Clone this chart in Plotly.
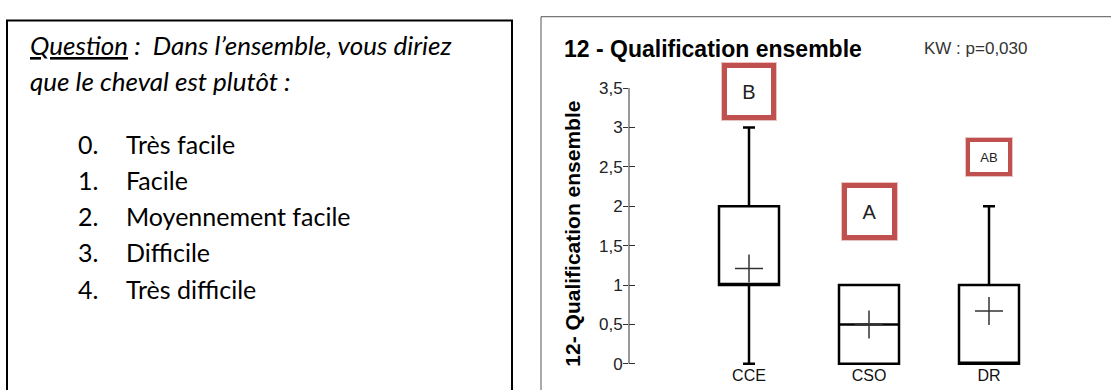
import plotly.graph_objects as go

# ---- data -------------------------------------------------------------
groups = ["CCE", "CSO", "DR"]
q_min = [0, 0, 0]
q1 = [1, 0, 0]
median = [1, 0.5, 0]
q3 = [2, 1, 1]
q_max = [3, 1, 2]
means = [1.21, 0.5, 0.67]

letters = ["B", "A", "AB"]
letter_y = [3.46, 1.93, 2.63]

y_ticks = [0, 0.5, 1, 1.5, 2, 2.5, 3, 3.5]

question = "Dans l’ensemble, vous diriez"
question_2 = "que le cheval est plutôt :"
choices = ["Très facile", "Facile", "Moyennement facile", "Difficile", "Très difficile"]

title = "12 - Qualification ensemble"
y_title = "12- Qualification ensemble"
kw_text = "KW : p=0,030"

# ---- page geometry (pixels -> paper) ----------------------------------
W, H = 1111, 390


def px(x):
    return x / W


def py(y):
    return 1 - y / H


Y_RANGE = [-0.06, 3.5]
Y_TOP_PX, Y_ZERO_PX = 82, 368
unit = (Y_ZERO_PX - Y_TOP_PX) / 3.5
y_bottom_px = Y_ZERO_PX + (0 - Y_RANGE[0]) * unit
y_domain = [py(y_bottom_px), py(Y_TOP_PX)]
x_domain = [px(629), px(1109)]

SANS = "Liberation Sans, Arial, sans-serif"
BODY = "Lato, Carlito, Calibri, sans-serif"
RED = "#c0504d"

fig = go.Figure()

fig.add_trace(go.Box(
    x=groups, q1=q1, median=median, q3=q3,
    lowerfence=q_min, upperfence=q_max,
    width=0.5, whiskerwidth=0.2,
    line=dict(color="black", width=2.5),
    fillcolor="white", boxpoints=False,
    showlegend=False, hoverinfo="skip",
))

fig.add_trace(go.Scatter(
    x=groups, y=means, mode="markers",
    marker=dict(symbol="cross-thin", size=20, color="#333",
                line=dict(width=1.5, color="#333")),
    showlegend=False, hoverinfo="skip",
))

# carrier for the inner half of the y ticks
fig.add_trace(go.Scatter(
    x=groups[:1], y=[0], yaxis="y2", mode="markers",
    marker=dict(opacity=0), showlegend=False, hoverinfo="skip",
))

axis_common = dict(
    range=Y_RANGE, domain=y_domain, tickvals=y_ticks,
    showgrid=False, zeroline=False, showline=False,
    tickcolor="#333", tickwidth=1,
)

fig.update_layout(
    width=W, height=H, autosize=False,
    margin=dict(l=0, r=0, t=0, b=0),
    paper_bgcolor="white", plot_bgcolor="rgba(0,0,0,0)",
    separators=", ",
    xaxis=dict(
        type="category", categoryorder="array", categoryarray=groups,
        range=[-1, 3], domain=x_domain,
        showgrid=False, zeroline=False, showline=False, ticks="",
        tickfont=dict(family=SANS, size=16, color="#111"),
        ticklabelstandoff=-5,
        fixedrange=True,
    ),
    yaxis=dict(
        **axis_common, ticks="outside", ticklen=5,
        tickfont=dict(family=SANS, size=17, color="#222"),
        ticklabelstandoff=-3,
        fixedrange=True,
    ),
    yaxis2=dict(
        **axis_common, ticks="inside", ticklen=6, overlaying="y",
        anchor="x", side="left", showticklabels=False, fixedrange=True,
    ),
)

shapes = [
    # question panel frame
    dict(type="rect", xref="paper", yref="paper",
         x0=px(7), x1=px(512), y0=py(12), y1=py(400),
         line=dict(color="black", width=2)),
    # chart panel frame
    dict(type="line", xref="paper", yref="paper",
         x0=px(541), x1=px(1111), y0=py(8), y1=py(8),
         line=dict(color="#555", width=1)),
    dict(type="line", xref="paper", yref="paper",
         x0=px(541), x1=px(541), y0=py(8), y1=py(400),
         line=dict(color="#555", width=1)),
    # y axis line from 0 to 3.5
    dict(type="line", xref="paper", yref="paper",
         x0=px(629), x1=px(629), y0=py(Y_ZERO_PX), y1=py(Y_TOP_PX),
         line=dict(color="#333", width=1)),
]

annotations = []

# question text
annotations.append(dict(
    xref="paper", yref="paper", x=px(28), y=py(37),
    xanchor="left", yanchor="middle", showarrow=False,
    text="<i><u>Question</u> :  " + question + "</i>",
    font=dict(family=BODY, size=26, color="black"),
))
annotations.append(dict(
    xref="paper", yref="paper", x=px(28), y=py(75),
    xanchor="left", yanchor="middle", showarrow=False,
    text="<i>" + question_2 + "</i>",
    font=dict(family=BODY, size=26, color="black"),
))
for i, label in enumerate(choices):
    yy = 140 + i * 37.5
    annotations.append(dict(
        xref="paper", yref="paper", x=px(76), y=py(yy),
        xanchor="left", yanchor="middle", showarrow=False,
        text=f"{i}.", font=dict(family=BODY, size=25, color="black"),
    ))
    annotations.append(dict(
        xref="paper", yref="paper", x=px(124), y=py(yy),
        xanchor="left", yanchor="middle", showarrow=False,
        text=label, font=dict(family=BODY, size=25, color="black"),
    ))

# chart title and test result
annotations.append(dict(
    xref="paper", yref="paper", x=px(562), y=py(41),
    xanchor="left", yanchor="middle", showarrow=False,
    text="<b>" + title + "</b>",
    font=dict(family=SANS, size=23, color="black"),
))
annotations.append(dict(
    xref="paper", yref="paper", x=px(922), y=py(41),
    xanchor="left", yanchor="middle", showarrow=False,
    text=kw_text, font=dict(family=SANS, size=17, color="#333"),
))

# y axis title
annotations.append(dict(
    xref="paper", yref="paper", x=px(573), y=py(233),
    xanchor="center", yanchor="middle", showarrow=False, textangle=-90,
    text="<b>" + y_title + "</b>",
    font=dict(family=SANS, size=21, color="black"),
))

# group letters in red frames (a 1px soft edge underneath, then the frame)
letter_style = {
    "B": dict(size=20, w=44, h=47, bw=5),
    "A": dict(size=20, w=45, h=47, bw=5),
    "AB": dict(size=13, w=38, h=30, bw=4),
}
for g, lab, ly in zip(groups, letters, letter_y):
    st = letter_style[lab]
    common = dict(
        xref="x", yref="y", x=g, y=ly,
        xanchor="center", yanchor="middle", showarrow=False,
        text=lab, font=dict(family=SANS, size=st["size"], color="#222"),
        align="center", valign="middle", borderpad=0, bgcolor="white",
        width=st["w"], height=st["h"],
    )
    annotations.append(dict(
        **common, bordercolor="rgba(192,80,77,0.35)", borderwidth=st["bw"] + 1,
    ))
    annotations.append(dict(
        **common, bordercolor=RED, borderwidth=st["bw"],
    ))

fig.update_layout(shapes=shapes, annotations=annotations)

fig.write_html("out.html")
